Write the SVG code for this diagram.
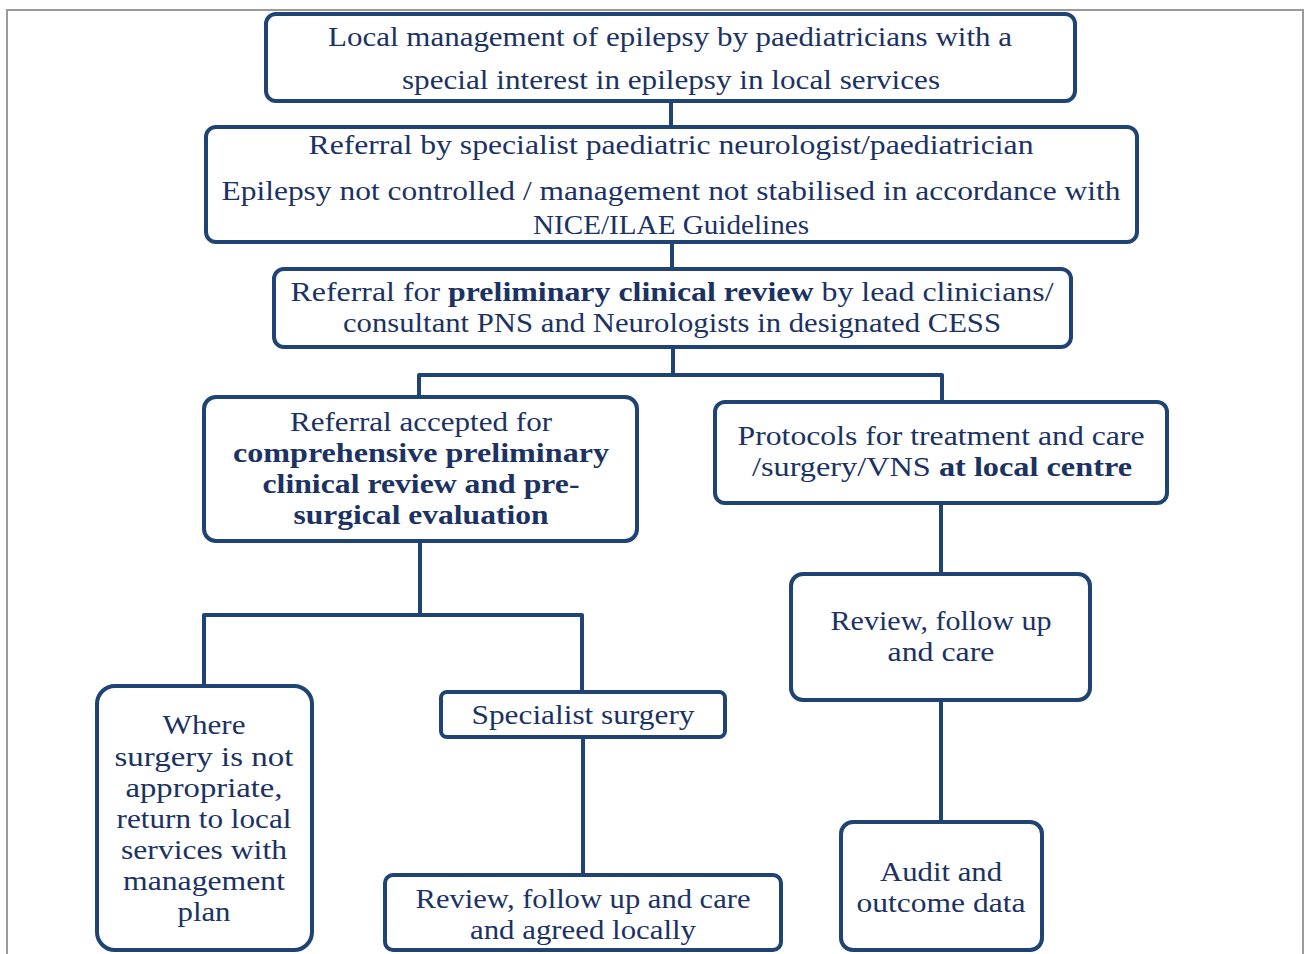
<svg xmlns="http://www.w3.org/2000/svg" width="1306" height="954" viewBox="0 0 1306 954">
<style>
.box{fill:#fff;stroke:#1f4372;stroke-width:4}
.con{fill:none;stroke:#1f4372;stroke-width:4;stroke-linejoin:round}
text{font-family:"Liberation Serif","Times New Roman",serif;font-size:27px;fill:#1b3263;text-anchor:middle}
.b{font-weight:bold}
</style>
<rect x="0" y="0" width="1306" height="954" fill="#fff"/>
<path d="M7,960 V10 H1303 V960" fill="none" stroke="#9a9a9a" stroke-width="2"/>
<g id="connectors">
<path class="con" d="M671,101 V127"/>
<path class="con" d="M672,242 V269"/>
<path class="con" d="M673,347 V376 M419,405 V375 H942 V404"/>
<path class="con" d="M420,541 V615 M204,686 V615 H582 V692"/>
<path class="con" d="M583,737 V875"/>
<path class="con" d="M941,503 V574"/>
<path class="con" d="M941,700 V822"/>
</g>
<g id="n1">
<rect class="box" x="266" y="14" width="809" height="87" rx="10"/>
<text x="670" y="46" textLength="684" lengthAdjust="spacingAndGlyphs">Local management of epilepsy by paediatricians with a</text>
<text x="671" y="89" textLength="538" lengthAdjust="spacingAndGlyphs">special interest in epilepsy in local services</text>
</g>
<g id="n2">
<rect class="box" x="206" y="127" width="931" height="115" rx="10"/>
<text x="671" y="154" textLength="725" lengthAdjust="spacingAndGlyphs">Referral by specialist paediatric neurologist/paediatrician</text>
<text x="671" y="200" textLength="899" lengthAdjust="spacingAndGlyphs">Epilepsy not controlled / management not stabilised in accordance with</text>
<text x="671" y="234" textLength="276" lengthAdjust="spacingAndGlyphs">NICE/ILAE Guidelines</text>
</g>
<g id="n3">
<rect class="box" x="274" y="269" width="797" height="78" rx="10"/>
<text x="672" y="301" textLength="763" lengthAdjust="spacingAndGlyphs">Referral for <tspan class="b">preliminary clinical review</tspan> by lead clinicians/</text>
<text x="672" y="332" textLength="658" lengthAdjust="spacingAndGlyphs">consultant PNS and Neurologists in designated CESS</text>
</g>
<g id="n4">
<rect class="box" x="204" y="397" width="433" height="144" rx="12"/>
<text x="421" y="431" textLength="262" lengthAdjust="spacingAndGlyphs">Referral accepted for</text>
<text x="421" y="462" class="b" textLength="376" lengthAdjust="spacingAndGlyphs">comprehensive preliminary</text>
<text x="421" y="493" class="b" textLength="317" lengthAdjust="spacingAndGlyphs">clinical review and pre-</text>
<text x="421" y="524" class="b" textLength="255" lengthAdjust="spacingAndGlyphs">surgical evaluation</text>
</g>
<g id="n5">
<rect class="box" x="715" y="402" width="452" height="101" rx="10"/>
<text x="941" y="445" textLength="407" lengthAdjust="spacingAndGlyphs">Protocols for treatment and care</text>
<text x="942" y="476" textLength="380" lengthAdjust="spacingAndGlyphs">/surgery/VNS <tspan class="b">at local centre</tspan></text>
</g>
<g id="n6">
<rect class="box" x="97" y="686" width="215" height="264" rx="18"/>
<text x="204" y="734" textLength="83" lengthAdjust="spacingAndGlyphs">Where</text>
<text x="204" y="766" textLength="179" lengthAdjust="spacingAndGlyphs">surgery  is not</text>
<text x="204" y="797" textLength="157" lengthAdjust="spacingAndGlyphs">appropriate,</text>
<text x="204" y="828" textLength="175" lengthAdjust="spacingAndGlyphs">return to local</text>
<text x="204" y="859" textLength="166" lengthAdjust="spacingAndGlyphs">services with</text>
<text x="204" y="890" textLength="162" lengthAdjust="spacingAndGlyphs">management</text>
<text x="204" y="921" textLength="53" lengthAdjust="spacingAndGlyphs">plan</text>
</g>
<g id="n7">
<rect class="box" x="441" y="692" width="284" height="45" rx="6"/>
<text x="583" y="724" textLength="223" lengthAdjust="spacingAndGlyphs">Specialist surgery</text>
</g>
<g id="n8">
<rect class="box" x="385" y="875" width="396" height="75" rx="8"/>
<text x="583" y="908" textLength="335" lengthAdjust="spacingAndGlyphs">Review, follow up and care</text>
<text x="583" y="939" textLength="226" lengthAdjust="spacingAndGlyphs">and agreed locally</text>
</g>
<g id="n9">
<rect class="box" x="791" y="574" width="299" height="126" rx="12"/>
<text x="941" y="630" textLength="221" lengthAdjust="spacingAndGlyphs">Review, follow up</text>
<text x="941" y="661" textLength="107" lengthAdjust="spacingAndGlyphs">and care</text>
</g>
<g id="n10">
<rect class="box" x="841" y="822" width="201" height="128" rx="12"/>
<text x="941" y="881" textLength="122" lengthAdjust="spacingAndGlyphs">Audit and</text>
<text x="941" y="912" textLength="169" lengthAdjust="spacingAndGlyphs">outcome data</text>
</g>
</svg>
